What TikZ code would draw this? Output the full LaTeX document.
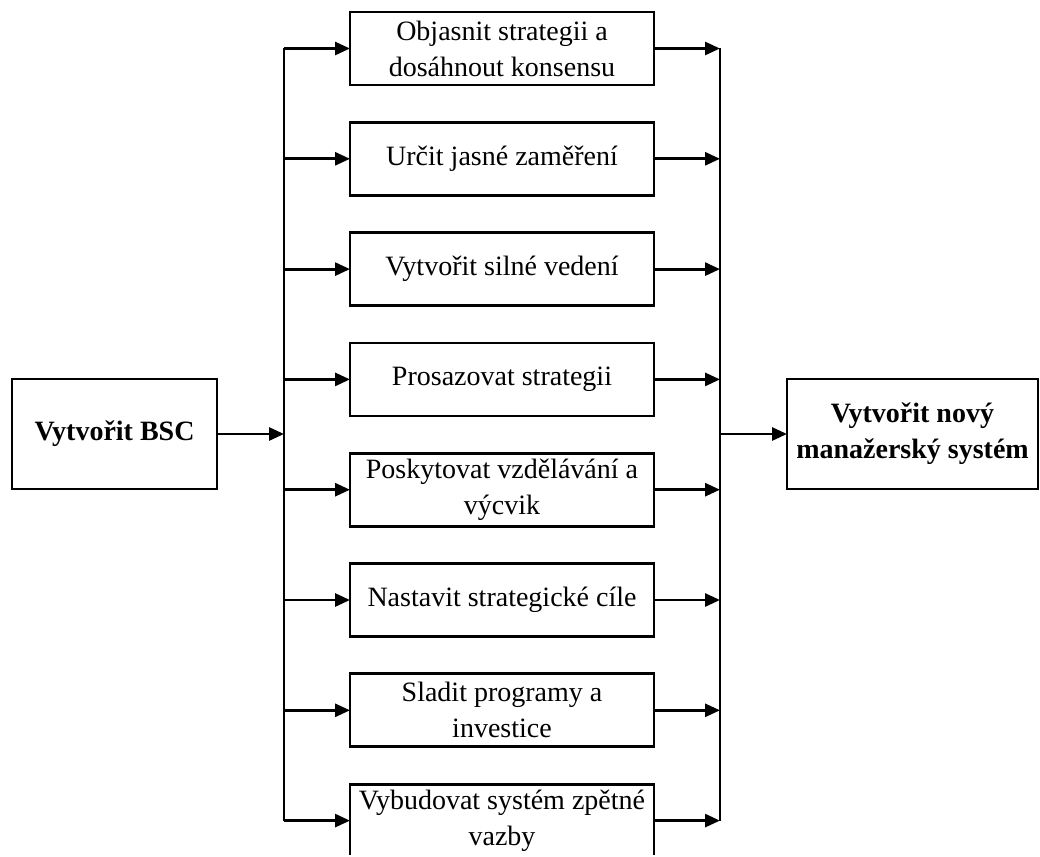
\documentclass[tikz,border=0pt]{standalone}
\usepackage{fontspec}
\setmainfont{Liberation Serif}
\usetikzlibrary{arrows.meta}
\begin{document}
\begin{tikzpicture}[x=1pt,y=-1pt,
  every node/.style={inner sep=0pt,outer sep=0pt},
  stepbox/.style={draw,line width=2.8pt,minimum width=304pt,minimum height=73pt,
    align=center,font=\fontsize{28}{36}\selectfont},
  endbox/.style={draw,line width=2.8pt,minimum width=205pt,minimum height=110pt,
    align=center,font=\fontsize{28}{36}\selectfont\bfseries},
  bus/.style={line width=2.8pt},
  flow/.style={line width=2.8pt,-{Triangle[length=15pt,width=13pt]}}]
\useasboundingbox (0,0) rectangle (1040,856);
\clip (0,0) rectangle (1040,854.6);

% start and goal
\node[endbox] (start) at (114.5,434) {Vytvořit BSC};
\node[endbox,minimum width=251pt] (goal) at (912.5,434) {Vytvořit nový\\manažerský systém};

% the eight parallel steps
\foreach \k/\txt in {0/{Objasnit strategii a\\dosáhnout konsensu},
                     1/{Určit jasné zaměření},
                     2/{Vytvořit silné vedení},
                     3/{Prosazovat strategii},
                     4/{Poskytovat vzdělávání a\\výcvik},
                     5/{Nastavit strategické cíle},
                     6/{Sladit programy a\\investice},
                     7/{Vybudovat systém zpětné\\vazby}} {
  \node[stepbox] (s\k) at (502,48.5+110.3*\k) {\txt};
  \coordinate (l\k) at (284,48.5+110.3*\k);
  \coordinate (r\k) at (720,48.5+110.3*\k);
  \draw[flow] (l\k) -- (s\k.west);
  \draw[flow] (s\k.east) -- (r\k);
}

% distribution and collection buses
\draw[bus] (l0) -- (l7);
\draw[bus] (r0) -- (r7);
\coordinate (lin) at (284,434);
\coordinate (rout) at (720,434);
\draw[flow] (start.east) -- (lin);
\draw[flow] (rout) -- (goal.west);
\end{tikzpicture}
\end{document}
